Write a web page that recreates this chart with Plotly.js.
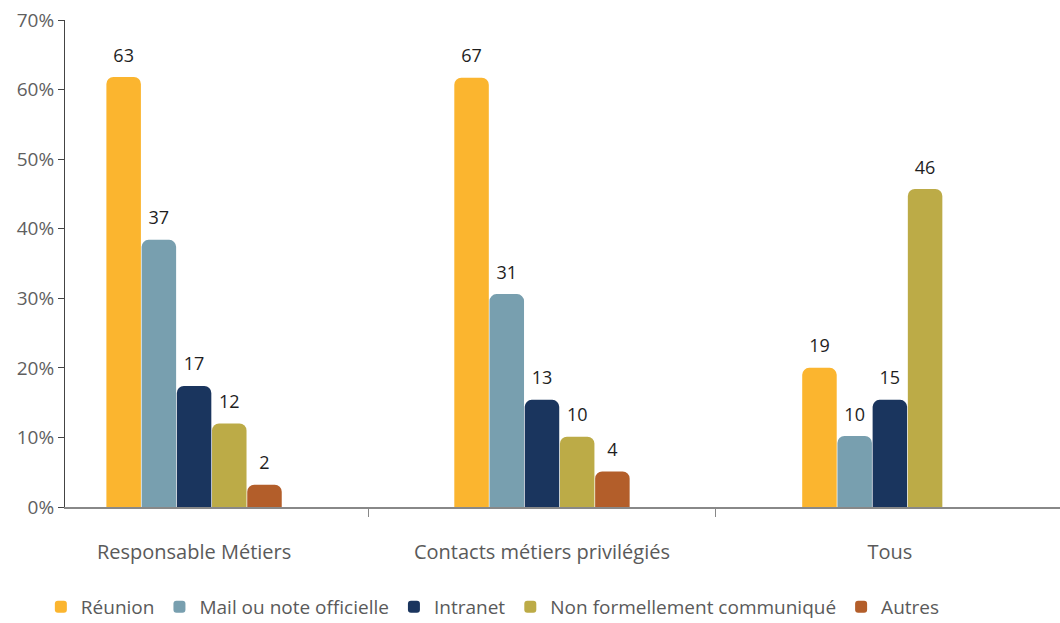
<!DOCTYPE html>
<html>
<head>
<meta charset="utf-8">
<script src="https://cdn.plot.ly/plotly-3.0.1.min.js"></script>
<style>html,body{margin:0;padding:0;background:#fff;}#chart{width:1060px;height:623px;}</style>
</head>
<body>
<div id="chart"></div>
<script>
const categories = ["Responsable Métiers", "Contacts métiers privilégiés", "Tous"];
const seriesNames = ["Réunion", "Mail ou note officielle", "Intranet", "Non formellement communiqué", "Autres"];
// bar heights as drawn (percent)
const reunion = [61.8, 61.7, 20.0];
const mail = [38.4, 30.6, 10.2];
const intranet = [17.4, 15.4, 15.4];
const nonFormel = [12.0, 10.1, 45.7];
const autres = [3.2, 5.1, null];
// printed labels
const reunionLabels = ["63", "67", "19"];
const mailLabels = ["37", "31", "10"];
const intranetLabels = ["17", "13", "15"];
const nonFormelLabels = ["12", "10", "46"];
const autresLabels = ["2", "4", ""];
const yTickVals = [0, 10, 20, 30, 40, 50, 60, 70];
const yTickText = yTickVals.map(v => v + "%");

const colors = ["#FBB52F", "#789FAF", "#1A355E", "#BCAB47", "#B35E2A"];
const values = [reunion, mail, intranet, nonFormel, autres];
const labels = [reunionLabels, mailLabels, intranetLabels, nonFormelLabels, autresLabels];

const FONT = "Open Sans, Noto Sans, sans-serif";
const bars = seriesNames.map((name, i) => ({
  type: "bar",
  name: name,
  x: categories,
  y: values[i],
  offsetgroup: "g" + i,
  marker: {color: colors[i], cornerradius: 7},
  hoverinfo: "x+y+name"
}));
const texts = seriesNames.map((name, i) => ({
  type: "scatter",
  mode: "markers+text",
  name: name,
  x: categories,
  y: values[i],
  offsetgroup: "g" + i,
  text: labels[i],
  textposition: "top center",
  textfont: {family: FONT, size: 18, color: "#1e1e1e"},
  marker: {size: 16, opacity: 0},
  showlegend: false,
  cliponaxis: false,
  hoverinfo: "skip"
}));

const layout = {
  width: 1060,
  height: 623,
  margin: {l: 65, r: 0, t: 20, b: 116, autoexpand: false},
  paper_bgcolor: "#fff",
  plot_bgcolor: "#fff",
  barmode: "group",
  bargap: 0.494,
  bargroupgap: 0.02,
  scattermode: "group",
  scattergap: 0.494,
  font: {family: FONT, color: "#555"},
  xaxis: {
    type: "category",
    range: [-0.371, 2.489],
    automargin: false,
    showline: true,
    linecolor: "#888",
    linewidth: 1.5,
    ticks: "outside",
    tickson: "boundaries",
    ticklen: 8,
    tickcolor: "#888",
    ticklabelstandoff: 26,
    tickfont: {family: FONT, size: 20, color: "#5a5a5a"},
    showgrid: false,
    zeroline: false
  },
  yaxis: {
    range: [0, 70],
    automargin: false,
    tickmode: "array",
    tickvals: yTickVals,
    ticktext: yTickText,
    showline: true,
    linecolor: "#444",
    linewidth: 1,
    ticks: "outside",
    ticklen: 6,
    tickcolor: "#444",
    tickfont: {family: FONT, size: 19, color: "#5f5f5f"},
    showgrid: false,
    zeroline: false
  },
  showlegend: true,
  legend: {
    orientation: "h",
    x: 0.43,
    xanchor: "center",
    y: -0.205,
    yanchor: "middle",
    font: {family: FONT, size: 19, color: "#5a5a5a"},
    itemwidth: 30,
    traceorder: "normal"
  }
};

Plotly.newPlot("chart", bars.concat(texts), layout, {displayModeBar: false, responsive: false});
</script>
</body>
</html>
